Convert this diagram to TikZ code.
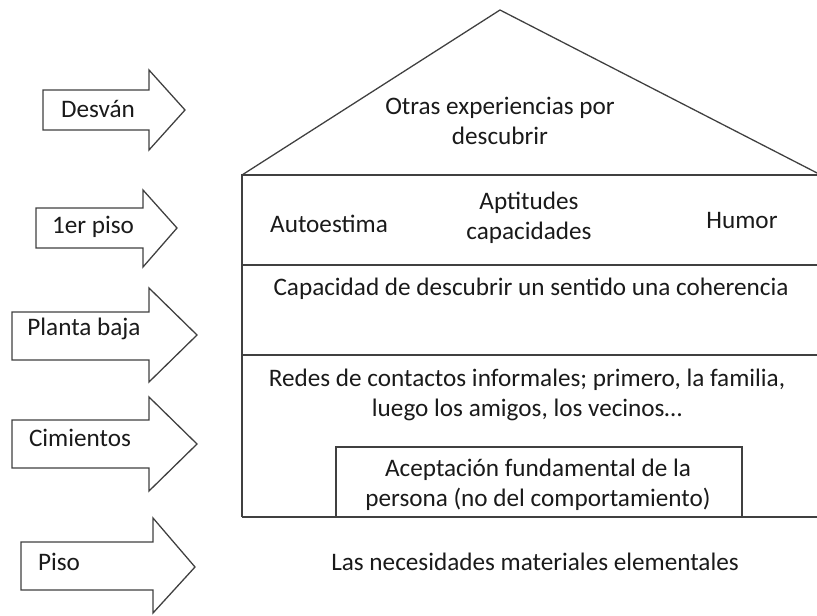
\documentclass[tikz,border=0pt]{standalone}
\usepackage{fontspec}
\setmainfont{Carlito}
\definecolor{edgegray}{HTML}{404040}
\definecolor{inkgray}{HTML}{1A1A1A}

\begin{document}
\begin{tikzpicture}[x=0.03cm, y=-0.03cm,
    wall/.style={draw=edgegray, line width=1.1pt, line join=miter},
    pointer/.style={draw=edgegray, line width=1.1pt, fill=white},
    txt/.style={font=\fontsize{21.5}{26}\selectfont, text=inkgray, align=center, inner sep=0pt}]
    \useasboundingbox (0,0) rectangle (817,615);
    \clip (0,0) rectangle (817,615);
    % Roof and walls of the house
    \draw[wall] (242,175) -- (500,10) -- (821,175);
    \draw[wall] (242,517) -- (242,175) -- (830,175);
    \draw[wall] (242,265) -- (830,265);
    \draw[wall] (242,355) -- (830,355);
    \draw[wall] (242,517) -- (830,517);
    % Inner box of the foundations
    \draw[wall] (336,517) -- (336,447) -- (742,447) -- (742,517);
    % Arrows on the left
    \draw[pointer] (43,90) -- (149,90) -- (149,70) -- (185,110) -- (149,150) -- (149,130) -- (43,130) -- cycle;
    \draw[pointer] (36,208) -- (143,208) -- (143,190) -- (177,228) -- (143,267) -- (143,248) -- (36,248) -- cycle;
    \draw[pointer] (12,312) -- (149,312) -- (149,288) -- (197,335) -- (149,382) -- (149,360) -- (12,360) -- cycle;
    \draw[pointer] (12,420) -- (149,420) -- (149,397) -- (197,444) -- (149,491) -- (149,468) -- (12,468) -- cycle;
    \draw[pointer] (21,542) -- (153,542) -- (153,518) -- (195,567) -- (153,613) -- (153,590) -- (21,590) -- cycle;
    % Arrow labels
    \node[txt] (desvan) at (98,109) {Desván};
    \node[txt] (primero) at (93,227) {1er piso};
    \node[txt] (planta) at (84,329) {Planta baja};
    \node[txt] (cimientos) at (80,438) {Cimientos};
    \node[txt] (piso) at (59,562) {Piso};
    % Texts inside the house
    \node[txt] (otras) at (500,121) {Otras experiencias por\\descubrir};
    \node[txt] (autoestima) at (329,224) {Autoestima};
    \node[txt] (aptitudes) at (529,218) {Aptitudes\\capacidades};
    \node[txt] (humor) at (742,221) {Humor};
    \node[txt] (sentido) at (531,289) {Capacidad de descubrir un sentido una coherencia};
    \node[txt] (redes) at (527,395) {Redes de contactos informales; primero, la familia,\\luego los amigos, los vecinos…};
    \node[txt] (aceptacion) at (538,485) {Aceptación fundamental de la\\persona (no del comportamiento)};
    \node[txt] (necesidades) at (535,562) {Las necesidades materiales elementales};
\end{tikzpicture}
\end{document}
